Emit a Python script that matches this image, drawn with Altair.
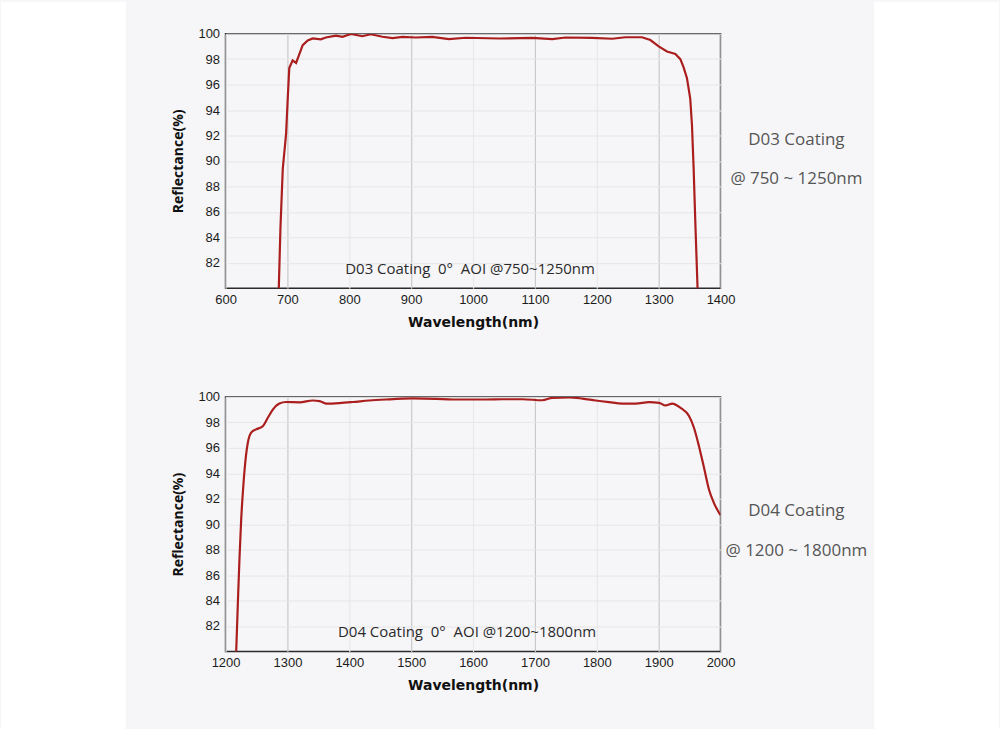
import altair as alt
import pandas as pd

# D03 coating, 0 deg AOI: wavelength (nm) and reflectance (%)
d03_nm = [685.5, 688.7, 692.5, 697.8, 700.5, 703.0, 708.4, 714.0, 719.0, 724.7,
          732.8, 741.0, 754.0, 762.0, 778.5, 789.0, 802.7, 821.0, 834.7, 853.7,
          869.9, 886.0, 907.5, 934.0, 961.0, 988.0, 1042.0, 1095.6, 1128.0, 1149.5,
          1192.5, 1225.0, 1246.0, 1273.0, 1286.6, 1300.0, 1313.4, 1327.0, 1335.0, 1340.3,
          1345.7, 1351.0, 1353.8, 1356.5, 1359.0, 1363.5]
d03_refl = [79.0, 84.7, 89.4, 92.1, 94.9, 97.3, 97.9, 97.7, 98.35, 99.1,
            99.47, 99.63, 99.55, 99.7, 99.85, 99.75, 99.98, 99.8, 99.95, 99.76,
            99.65, 99.75, 99.7, 99.75, 99.57, 99.68, 99.62, 99.67, 99.57, 99.7,
            99.67, 99.6, 99.72, 99.72, 99.5, 99.0, 98.6, 98.4, 98.0, 97.35,
            96.5, 94.9, 92.8, 89.4, 85.5, 79.0]

# D04 coating, 0 deg AOI
d04_nm = [1216.5, 1219.9, 1222.6, 1225.2, 1229.0, 1233.3, 1236.0, 1241.4, 1249.4, 1260.2,
          1268.3, 1276.4, 1287.0, 1297.8, 1319.5, 1341.0, 1352.0, 1362.4, 1384.0, 1405.5,
          1432.0, 1459.0, 1502.0, 1540.0, 1567.0, 1620.6, 1647.6, 1680.0, 1712.0, 1728.0,
          1755.0, 1776.8, 1798.0, 1819.9, 1841.0, 1862.8, 1884.4, 1900.6, 1911.0, 1922.0,
          1935.4, 1949.0, 1957.0, 1965.0, 1973.2, 1981.0, 1989.0, 2000.0]
d04_refl = [79.0, 83.8, 87.4, 90.3, 93.2, 95.5, 96.4, 97.2, 97.45, 97.7,
            98.36, 99.0, 99.48, 99.6, 99.58, 99.72, 99.67, 99.48, 99.52, 99.6,
            99.72, 99.8, 99.88, 99.85, 99.8, 99.8, 99.82, 99.82, 99.74, 99.93,
            99.97, 99.87, 99.72, 99.59, 99.48, 99.48, 99.59, 99.54, 99.33, 99.48,
            99.14, 98.5, 97.58, 96.15, 94.45, 92.77, 91.7, 90.7]

y_ticks = [82, 84, 86, 88, 90, 92, 94, 96, 98, 100]
d03_x_ticks = [600, 700, 800, 900, 1000, 1100, 1200, 1300, 1400]
d04_x_ticks = [1200, 1300, 1400, 1500, 1600, 1700, 1800, 1900, 2000]

PAGE_W, PAGE_H, PANEL_L, PANEL_R = 1000, 729, 125, 875
PLOT_LEFT, TOP1, TOP2 = 225, 32, 396
W, H = 496, 255
LINE_RED = "#ab1e1e"
NB = "\u00a0"
one = pd.DataFrame({"k": [0]})


def panel(nm, refl, x_ticks, note, note_xy, side1, side2, side_y1, side_y2,
          top, interp, with_margins):
    df = pd.DataFrame({"nm": nm, "refl": refl})
    left = PLOT_LEFT
    x_scale = alt.Scale(domain=[x_ticks[0], x_ticks[-1]], nice=False)
    y_scale = alt.Scale(domain=[80, 100], nice=False)

    line = alt.Chart(df).mark_line(
        color=LINE_RED, strokeWidth=2.2, clip=True, interpolate=interp
    ).encode(
        x=alt.X("nm:Q", scale=x_scale, title="Wavelength(nm)",
                axis=alt.Axis(values=x_ticks, format="d", grid=True,
                              labelOverlap=False, labelFlush=False,
                              gridColor={"condition": {"test": "datum.value % 200 == 100",
                                                       "value": "#c9c9c9"},
                                         "value": "#e9e9eb"},
                              gridWidth=1.2,
                              labelFont="Liberation Sans", labelFontSize=13, labelColor="#1c1c1c",
                              titleFont="DejaVu Sans", titleFontSize=14, titleFontWeight="bold",
                              titleColor="#111111", titlePadding=9, labelPadding=5)),
        y=alt.Y("refl:Q", scale=y_scale, title="Reflectance(%)",
                axis=alt.Axis(values=y_ticks, format="d", grid=True, gridColor="#e6e6e8",
                              labelOverlap=False, labelFlush=False,
                              labelFont="Liberation Sans", labelFontSize=13, labelColor="#1c1c1c",
                              titleFont="Open Sans", titleFontSize=14, titleFontWeight="bold",
                              titleColor="#111111", titlePadding=12, labelPadding=6)),
    )

    note_txt = alt.Chart(one).mark_text(
        text=note, font="Open Sans", fontSize=15, color="#2a2a2a"
    ).encode(x=alt.value(note_xy[0] - left), y=alt.value(note_xy[1] - top))

    side = alt.Chart(one).mark_text(
        text=side1, font="Open Sans", fontSize=17, color="#555555"
    ).encode(x=alt.value(797 - left), y=alt.value(side_y1 - top)) + \
        alt.Chart(one).mark_text(
        text=side2, font="Open Sans", fontSize=17, color="#555555"
    ).encode(x=alt.value(797 - left), y=alt.value(side_y2 - top))

    layers = [line, note_txt, side]
    if with_margins:
        # white margins either side of the grey panel, full page height
        margins = alt.Chart(one).mark_rect(color="white").encode(
            x=alt.value(-left), x2=alt.value(PANEL_L - left),
            y=alt.value(-top), y2=alt.value(PAGE_H - top),
        ) + alt.Chart(one).mark_rect(color="white").encode(
            x=alt.value(PANEL_R - left), x2=alt.value(PAGE_W - left),
            y=alt.value(-top), y2=alt.value(PAGE_H - top),
        )
        layers = [margins] + layers
    return alt.layer(*layers).properties(width=W, height=H)


top_panel = panel(d03_nm, d03_refl, d03_x_ticks,
                  f"D03 Coating{NB}{NB}0°{NB}{NB}AOI @750~1250nm", (470, 268),
                  "D03 Coating", "@ 750 ~ 1250nm", 139, 178,
                  TOP1, "linear", True)
bottom_panel = panel(d04_nm, d04_refl, d04_x_ticks,
                     f"D04 Coating{NB}{NB}0°{NB}{NB}AOI @1200~1800nm", (467, 632),
                     "D04 Coating", "@ 1200 ~ 1800nm", 510, 550,
                     TOP2, "monotone", False)

chart = alt.vconcat(top_panel, bottom_panel, spacing=TOP2 - TOP1 - H, bounds="flush").properties(
    background="#f6f6f8",
    padding={"left": 0, "top": 0, "right": 0, "bottom": 0},
).configure_view(
    stroke="#2b2b2b", strokeWidth=1.5, fill=None
).configure_axis(
    domain=False, ticks=False,
)

chart.save("out.html", embed_options={"renderer": "svg", "actions": False})
